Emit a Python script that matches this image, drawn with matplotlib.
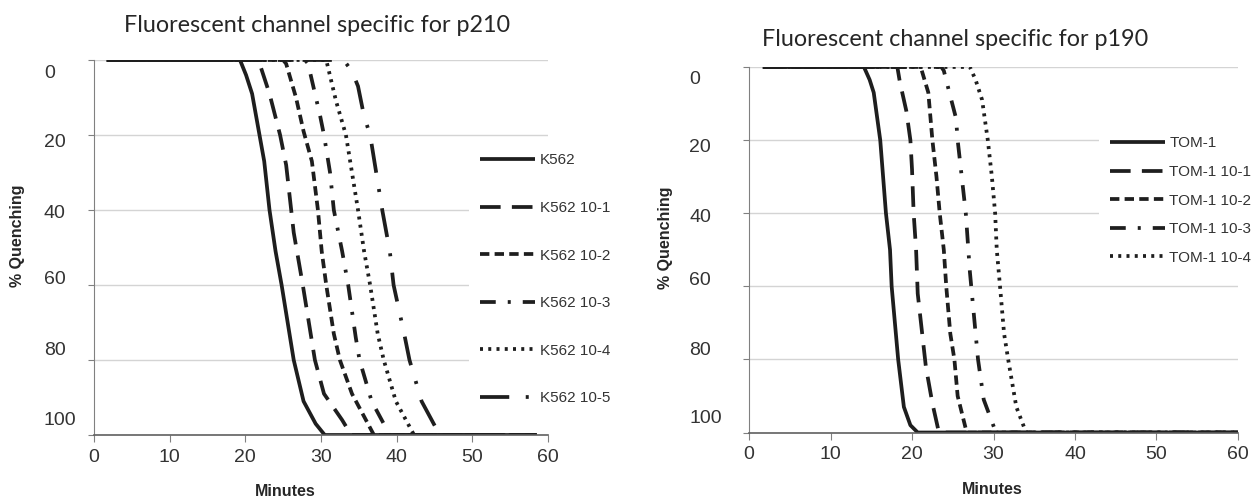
import matplotlib.pyplot as plt

# ---- p210 panel: K562 dilution series (minutes vs % quenching) ----
k562_x = [1.7, 19.3, 20.1, 20.9, 21.7, 22.5, 23.2, 24.0, 24.8, 26.4, 27.7, 29.3, 30.5, 58.5]
k562_y = [0, 0, 4, 9, 18, 27, 40, 51, 60, 80, 91, 97, 100, 100]

k562_1_x = [1.7, 21.5, 21.9, 23.2, 24.6, 25.4, 25.9, 26.4, 27.6, 29.2, 30.4, 32.8, 34.0, 58.5]
k562_1_y = [0, 0, 1, 9, 20, 28, 37, 46, 60, 80, 89, 96, 100, 100]

k562_2_x = [1.7, 25.0, 25.4, 26.7, 27.7, 28.8, 29.6, 30.1, 30.7, 31.7, 32.5, 34.1, 37.0, 58.5]
k562_2_y = [0, 0, 1, 10, 19, 27, 40, 51, 60, 73, 80, 89, 100, 100]

k562_3_x = [1.7, 27.9, 28.3, 29.9, 30.4, 31.2, 31.7, 32.8, 33.6, 34.6, 35.1, 36.7, 38.3, 39.0, 58.5]
k562_3_y = [0, 0, 1, 15, 20, 30, 40, 51, 60, 74, 80, 91, 97, 100, 100]

k562_4_x = [1.7, 30.7, 32.0, 33.3, 34.1, 34.9, 35.7, 36.5, 37.5, 38.3, 39.9, 42.3, 58.5]
k562_4_y = [0, 0, 11, 20, 30, 40, 51, 60, 73, 80, 91, 100, 100]

k562_5_x = [1.7, 33.0, 34.1, 34.9, 35.7, 36.5, 37.3, 38.1, 39.1, 39.6, 41.0, 41.7, 43.3, 45.7, 58.5]
k562_5_y = [0, 0, 3, 7, 15, 20, 30, 40, 51, 60, 73, 80, 91, 100, 100]

# ---- p190 panel: TOM-1 dilution series ----
tom_x = [1.7, 14.1, 14.8, 15.3, 16.1, 16.8, 17.3, 17.5, 18.3, 19.0, 19.8, 20.7, 60]
tom_y = [0, 0, 3.5, 7, 20, 40, 50, 60, 80, 93, 98, 100, 100]

tom_1_x = [1.7, 18.2, 18.5, 19.3, 19.8, 20.0, 20.2, 20.5, 20.7, 21.2, 21.7, 22.5, 23.0, 23.3, 60]
tom_1_y = [0, 0, 4, 12, 20, 28, 40, 50, 62, 72, 82, 92, 97, 100, 100]

tom_2_x = [1.7, 20.9, 21.2, 22.0, 22.5, 23.0, 23.4, 23.9, 24.2, 24.7, 25.2, 25.6, 26.6, 26.8, 60]
tom_2_y = [0, 0, 1, 7, 20, 30, 40, 50, 60, 73, 80, 90, 99, 100, 100]

tom_3_x = [1.7, 23.6, 23.9, 24.7, 25.4, 25.6, 26.1, 26.6, 27.1, 27.6, 28.1, 28.8, 29.8, 30.3, 60]
tom_3_y = [0, 0, 1, 8, 14, 20, 30, 40, 56, 68, 80, 91, 97, 100, 100]

tom_4_x = [1.7, 27.1, 27.8, 28.6, 29.3, 29.8, 30.2, 30.4, 30.8, 31.3, 31.8, 32.8, 34.0, 60]
tom_4_y = [0, 0, 3.5, 9, 20, 30, 40, 50, 60, 73, 80, 93, 100, 100]

k562_labels = ["K562", "K562 10-1", "K562 10-2", "K562 10-3", "K562 10-4", "K562 10-5"]
tom_labels = ["TOM-1", "TOM-1 10-1", "TOM-1 10-2", "TOM-1 10-3", "TOM-1 10-4"]

x_ticks = [0, 10, 20, 30, 40, 50, 60]
y_ticks = [0, 20, 40, 60, 80, 100]

# Excel-style line patterns (solid, dash, short dash, dash-dot, dot, long dash-dot)
DASHES = [None, (5.5, 3), (2.5, 1.4), (4.2, 3.2, 0.8, 3.2), (0.8, 1.4), (7.8, 4.4, 0.8, 4.4)]
LINE = "#1e1e1e"

plt.rcParams["font.family"] = ["Liberation Sans", "DejaVu Sans"]

fig = plt.figure(figsize=(12.53, 4.98), dpi=100)
ax1 = fig.add_axes([0.0750, 0.1265, 0.3623, 0.7530])
ax2 = fig.add_axes([0.5978, 0.1315, 0.3902, 0.7340])


def draw_panel(ax, xs, ys, labels, label_pad, leg_anchor, leg_spacing):
    for i, (x, y, lab) in enumerate(zip(xs, ys, labels)):
        line, = ax.plot(x, y, color=LINE, lw=2.7, label=lab,
                        solid_capstyle="butt", dash_capstyle="butt")
        if DASHES[i] is not None:
            line.set_dashes(DASHES[i])
    ax.set_xlim(0, 60)
    ax.set_ylim(100, 0)
    ax.set_xticks(x_ticks)
    ax.set_yticks(y_ticks)
    ax.tick_params(axis="y", which="major", labelleft=False, length=4,
                   color="#808080", direction="out")
    # tick labels in the original sit slightly off their gridlines
    ax.set_yticks([3, 21.5, 40.5, 58, 77, 95.5], [str(v) for v in y_ticks], minor=True)
    ax.tick_params(axis="y", which="minor", length=0, pad=label_pad,
                   labelsize=14, labelcolor="#333333")
    for t in ax.get_yticklabels(minor=True):
        t.set_horizontalalignment("left")
    ax.tick_params(axis="x", length=5, pad=5, labelsize=14,
                   labelcolor="#333333", color="#808080")
    ax.grid(axis="y", which="major", color="#d4d4d4", lw=1)
    ax.set_axisbelow(True)
    for s in ["top", "right"]:
        ax.spines[s].set_visible(False)
    ax.spines["left"].set_color("#808080")
    ax.spines["bottom"].set_color("#606060")
    ax.spines["bottom"].set_linewidth(1.2)
    leg = ax.legend(loc="upper left", bbox_to_anchor=leg_anchor, fontsize=11,
                    handlelength=3.6, handletextpad=0.3, labelspacing=leg_spacing,
                    borderpad=0.7, frameon=True, fancybox=False, framealpha=1)
    leg.get_frame().set_edgecolor("none")
    for t in leg.get_texts():
        t.set_color("#333333")


draw_panel(ax1, [k562_x, k562_1_x, k562_2_x, k562_3_x, k562_4_x, k562_5_x],
           [k562_y, k562_1_y, k562_2_y, k562_3_y, k562_4_y, k562_5_y],
           k562_labels, 36, (0.81, 0.80), 2.2)
draw_panel(ax2, [tom_x, tom_1_x, tom_2_x, tom_3_x, tom_4_x],
           [tom_y, tom_1_y, tom_2_y, tom_3_y, tom_4_y],
           tom_labels, 43, (0.70, 0.86), 0.95)

title_font = dict(family="Lato", fontsize=16.8, color="#262626", ha="center", va="center")
fig.text(317 / 1253, 1 - 26 / 498, "Fluorescent channel specific for p210", **title_font)
fig.text(955 / 1253, 1 - 39 / 498, "Fluorescent channel specific for p190", **title_font)

lab_font = dict(fontsize=11.5, fontweight="bold", color="#262626", ha="center", va="center")
fig.text(285 / 1253, 1 - 491 / 498, "Minutes", **lab_font)
fig.text(992 / 1253, 1 - 489 / 498, "Minutes", **lab_font)
fig.text(18 / 1253, 1 - 236 / 498, "% Quenching", rotation=90, **lab_font)
fig.text(666 / 1253, 1 - 238 / 498, "% Quenching", rotation=90, **lab_font)

fig.savefig("out.png", dpi=100)
